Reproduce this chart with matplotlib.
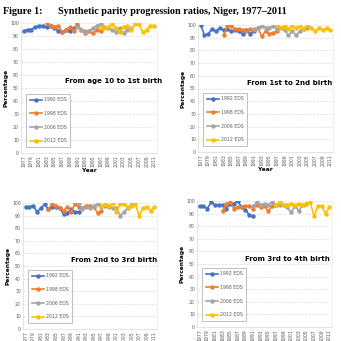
import matplotlib.pyplot as plt
import numpy as np

years = list(range(1977, 2012))
surveys = ['1992 EDS', '1998 EDS', '2006 EDS', '2012 EDS']
starts = [1977, 1983, 1991, 1997]
colors = ['#4472C4', '#ED7D31', '#A5A5A5', '#FFC000']

age10_to_1st = [
    [94, 95, 95, 97, 98, 98, 97, 98, 96, 94, 93, 95, 94, 96, 98],
    [100, 98, 97, 98, 93, 95, 97, 94, 99, 95, 92, 94, 92, 95, 94],
    [97, 95, 94, 94, 96, 98, 99, 97, 96, 95, 93, 96, 92, 95, 96],
    [97, 96, 97, 99, 96, 93, 97, 98, 95, 99, 99, 93, 95, 98, 98],
]
first_to_2nd = [
    [100, 92, 93, 97, 95, 98, 96, 97, 95, 96, 95, 93, 96, 93, 95],
    [92, 99, 99, 97, 97, 96, 95, 97, 96, 98, 91, 95, 93, 94, 95],
    [97, 98, 99, 98, 98, 99, 97, 98, 96, 92, 95, 92, 95, 97, 98],
    [100, 98, 99, 97, 99, 98, 99, 97, 100, 98, 95, 98, 96, 98, 96],
]
second_to_3rd = [
    [97, 97, 98, 93, 96, 99, 95, 97, 97, 96, 91, 92, 95, 93, 93],
    [95, 99, 98, 96, 94, 97, 93, 99, 97, 96, 98, 98, 97, 92, 94],
    [100, 95, 97, 96, 98, 99, 97, 98, 97, 96, 96, 90, 93, 96, 99],
    [98, 99, 98, 100, 93, 99, 99, 97, 98, 99, 90, 96, 97, 94, 97],
]
third_to_4th = [
    [96, 96, 94, 99, 97, 97, 97, 94, 98, 98, 100, 95, 93, 89, 88],
    [92, 98, 99, 94, 95, 95, 96, 96, 94, 97, 95, 96, 92, 96, 97],
    [96, 99, 97, 98, 97, 99, 97, 97, 97, 95, 91, 96, 92, 97, 98],
    [97, 99, 97, 97, 98, 97, 98, 97, 98, 99, 88, 96, 96, 90, 95],
]

panels = [
    ('From age 10 to 1st birth', age10_to_1st, (21, 157, 23, 153), (0.68, 0.55)),
    ('From 1st to 2nd birth', first_to_2nd, (198, 333, 25, 152), (0.68, 0.54)),
    ('From 2nd to 3rd birth', second_to_3rd, (23, 157, 203, 329), (0.68, 0.55)),
    ('From 3rd to 4th birth', third_to_4th, (197, 332, 201, 327), (0.67, 0.54)),
]

W = H = 341
fig = plt.figure(figsize=(3.41, 3.41), dpi=100)

fig.text(3 / W, 1 - 11 / H, 'Figure 1:', family='Liberation Serif',
         weight='bold', fontsize=7.3, va='center')
fig.text(58 / W, 1 - 11 / H, 'Synthetic parity progression ratios, Niger, 1977\u20132011',
         family='Liberation Serif', weight='bold', fontsize=7.3, va='center')

for label, series, (l, r, t, b), (tx, ty) in panels:
    ax = fig.add_axes([l / W, 1 - b / H, (r - l) / W, (b - t) / H])
    for name, start, col, vals in zip(surveys, starts, colors, series):
        xs = np.arange(len(vals)) + (start - 1977)
        ax.plot(xs, vals, color=col, lw=1.2, marker='o', ms=2.2, label=name)

    ax.set_ylim(0, 100)
    ax.set_xlim(-0.7, len(years) - 0.3)
    ax.set_yticks(range(0, 101, 10))
    ax.set_xticks(range(0, len(years), 2))
    ax.set_xticklabels([str(y) for y in years[::2]], rotation=90)
    ax.tick_params(labelsize=3.3, colors='#595959', length=0, pad=1.5)
    ax.grid(axis='y', color='#D9D9D9', ls=(0, (3, 2)), lw=0.5)
    ax.set_axisbelow(True)
    for s in ax.spines.values():
        s.set_color('#D9D9D9')
        s.set_linewidth(0.5)
    ax.spines['top'].set_visible(False)
    ax.spines['right'].set_color('#EBEBEB')

    ax.set_ylabel('Percentage', fontsize=4.2, weight='bold', labelpad=1)
    ax.set_xlabel('Year', fontsize=4.2, weight='bold', labelpad=1)
    ax.text(tx, ty, label, transform=ax.transAxes, ha='center', va='center',
            fontsize=5, weight='bold')

    leg = ax.legend(loc='lower left', bbox_to_anchor=(0.04, 0.05), fontsize=3.3,
                    labelspacing=1.9, handlelength=2.8, handletextpad=0.3,
                    borderpad=0.7, borderaxespad=0,
                    fancybox=False, edgecolor='#A6A6A6', framealpha=1)
    leg.get_frame().set_linewidth(0.5)
    for txt in leg.get_texts():
        txt.set_color('#595959')

fig.savefig('out.png', dpi=100)
